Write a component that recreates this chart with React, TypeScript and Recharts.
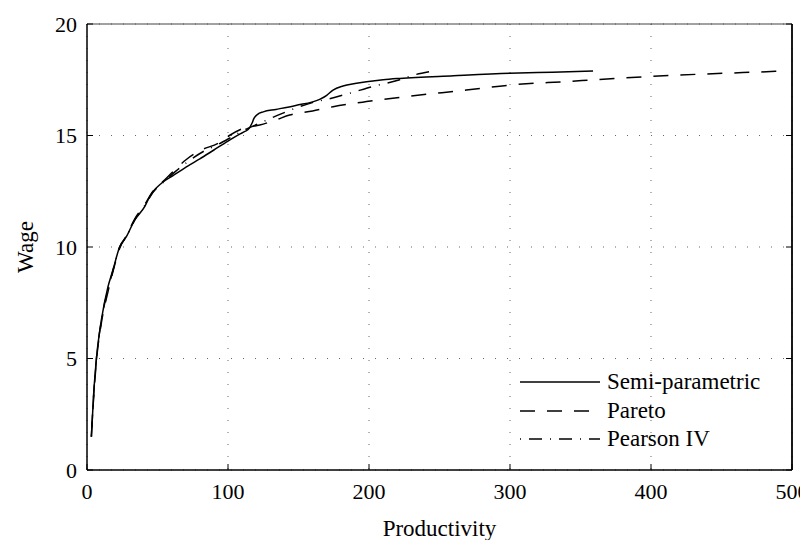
import { LineChart, Line, XAxis, YAxis, CartesianGrid } from 'recharts';

// Semi-parametric estimate
const SEMI_X = [3.1, 4.75, 6.7, 10.2, 14.9, 18.4, 23.2, 27.9, 33.8, 40.9, 44, 46.8, 52.8, 61, 72, 80, 90, 100, 108, 112, 115, 117, 118.5, 121, 125, 134, 148, 165, 170, 174.5, 181.6, 190, 198.2, 210, 221.8, 260, 299.8, 330, 358.9];
const SEMI_Y = [1.49, 3.44, 5.0, 6.73, 8.22, 8.97, 10.01, 10.46, 11.21, 11.81, 12.2, 12.48, 12.86, 13.2, 13.65, 13.95, 14.35, 14.75, 15.05, 15.18, 15.32, 15.55, 15.78, 15.95, 16.06, 16.17, 16.35, 16.62, 16.8, 17.04, 17.22, 17.33, 17.41, 17.5, 17.56, 17.68, 17.79, 17.84, 17.89];

// Pareto fit
const PARETO_X = [3.1, 4.75, 6.7, 10.2, 14.9, 18.4, 23.2, 27.9, 33.8, 40.9, 46.8, 55, 63, 70, 81, 93, 101, 110, 122.5, 134, 143.7, 160, 174.5, 198.2, 221.8, 269, 299.8, 340, 375.5, 420, 465, 490];
const PARETO_Y = [1.5, 3.3, 4.9, 6.6, 8.0, 8.9, 9.95, 10.5, 11.25, 11.9, 12.5, 13.0, 13.5, 13.9, 14.35, 14.65, 15.0, 15.3, 15.47, 15.7, 15.92, 16.1, 16.29, 16.52, 16.71, 17.04, 17.26, 17.42, 17.56, 17.71, 17.82, 17.88];

// Pearson IV fit
const PEARSON_X = [3.1, 4.75, 6.7, 10.2, 14.9, 18.4, 23.2, 27.9, 33.8, 40.9, 46.8, 55, 63, 72, 83, 93, 103, 110, 117, 124.8, 135, 150.7, 162.5, 170, 186, 202.8, 221.8, 230, 243];
const PEARSON_Y = [1.5, 3.4, 5.0, 6.7, 8.1, 8.95, 10.0, 10.45, 11.2, 11.85, 12.45, 12.95, 13.4, 13.85, 14.3, 14.6, 14.95, 15.2, 15.4, 15.62, 15.9, 16.29, 16.52, 16.62, 16.89, 17.2, 17.5, 17.68, 17.86];

const X_TICKS = [0, 100, 200, 300, 400, 500];
const Y_TICKS = [0, 5, 10, 15, 20];

const SERIES = [
  { name: 'Semi-parametric', xs: SEMI_X, ys: SEMI_Y, dash: undefined as string | undefined },
  { name: 'Pareto', xs: PARETO_X, ys: PARETO_Y, dash: '15 12' },
  { name: 'Pearson IV', xs: PEARSON_X, ys: PEARSON_Y, dash: '1 8 13 8' },
];

const FONT = '"Liberation Serif", "Times New Roman", serif';
const tickStyle = { fill: '#000', fontSize: 22, fontFamily: FONT };

// legend sits inside the plot, lower right (drawn outside recharts so it doesn't shrink the plot)
function LegendBox() {
  return (
    <div style={{ position: 'absolute', left: 520, top: 368, fontFamily: FONT, fontSize: 23, color: '#000', lineHeight: '28.5px' }}>
      {SERIES.map(s => (
        <div key={s.name} style={{ display: 'flex', alignItems: 'center', height: 28.5 }}>
          <svg width={80} height={10} style={{ marginRight: 7 }}>
            <line x1={0} y1={5} x2={80} y2={5} stroke="#000" strokeWidth={1.5} strokeDasharray={s.dash} />
          </svg>
          <span>{s.name}</span>
        </div>
      ))}
    </div>
  );
}

export default function App() {
  // negative margins cancel the body margin so the chart covers the whole 808x548 page
  return (
    <div style={{ position: 'relative', width: 808, height: 548, margin: -8, fontFamily: FONT }}>
      <style>{'html, body { overflow: hidden; } .recharts-wrapper, .recharts-surface { overflow: visible !important; }'}</style>
      <LineChart width={808} height={548} margin={{ top: 0, right: 0, bottom: 0, left: 0 }}>
        <CartesianGrid stroke="#666" strokeDasharray="1 11" />
        <XAxis dataKey="x" type="number" domain={[0, 500]} ticks={X_TICKS} allowDataOverflow
          interval={0} height={78} tickSize={-6} tickMargin={19} tick={tickStyle}
          axisLine={{ stroke: '#000', strokeWidth: 1.5 }} tickLine={{ stroke: '#000' }}
          label={({ viewBox }: any) => (
            <text x={viewBox.x + viewBox.width / 2} y={viewBox.y + 58} textAnchor="middle"
              dominantBaseline="central" fontFamily={FONT} fontSize={23} fill="#000">Productivity</text>
          )} />
        <XAxis xAxisId="top" orientation="top" type="number" domain={[0, 500]} ticks={X_TICKS} allowDataOverflow
          interval={0} height={24} tickSize={-6} tickFormatter={() => ''}
          axisLine={{ stroke: '#444', strokeWidth: 1 }} tickLine={{ stroke: '#000' }} />
        <YAxis type="number" domain={[0, 20]} ticks={Y_TICKS} allowDataOverflow
          interval={0} width={87} tickSize={-6} tickMargin={16} tick={tickStyle}
          axisLine={{ stroke: '#000', strokeWidth: 1.5 }} tickLine={{ stroke: '#000' }}
          label={({ viewBox }: any) => {
            const cx = viewBox.x + 25;
            const cy = viewBox.y + viewBox.height / 2;
            return (
              <text x={cx} y={cy} transform={`rotate(-90 ${cx} ${cy})`} textAnchor="middle"
                dominantBaseline="central" fontFamily={FONT} fontSize={23} fill="#000">Wage</text>
            );
          }} />
        <YAxis yAxisId="right" orientation="right" type="number" domain={[0, 20]} ticks={Y_TICKS} allowDataOverflow
          interval={0} width={16} tickSize={-6} tickFormatter={() => ''}
          axisLine={{ stroke: '#000', strokeWidth: 1.8 }} tickLine={{ stroke: '#000' }} />
        {SERIES.map(s => (
          <Line key={s.name} name={s.name} data={s.xs.map((x, i) => ({ x, y: s.ys[i] }))}
            dataKey="y" type="monotone" stroke="#000" strokeWidth={1.5} strokeDasharray={s.dash}
            dot={false} activeDot={false} isAnimationActive={false} />
        ))}
      </LineChart>
      <LegendBox />
    </div>
  );
}
